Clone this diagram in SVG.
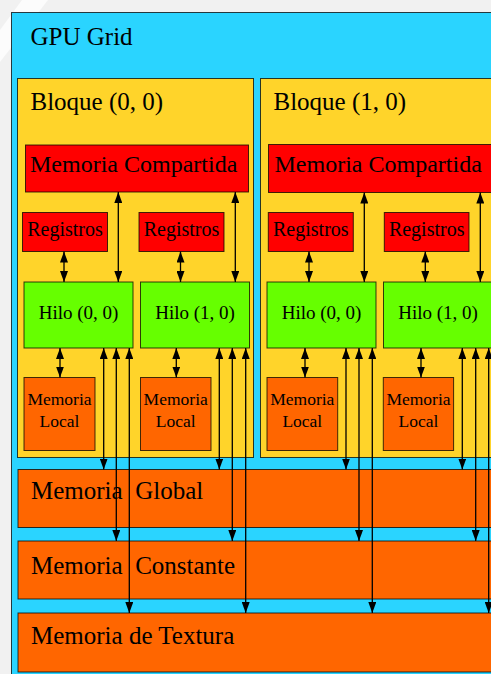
<svg xmlns="http://www.w3.org/2000/svg" width="491" height="674" viewBox="0 0 491 674">
  <defs>
    <marker id="ah" viewBox="0 0 11 8" refX="11" refY="4" markerWidth="11" markerHeight="8" markerUnits="userSpaceOnUse" orient="auto-start-reverse">
      <path d="M0,0 L11,4 L0,8 z" fill="#000"/>
    </marker>
    <style>
      .box { stroke: #000; stroke-opacity: 0.75; stroke-width: 1; }
      .grid { fill: #2ad4ff; }
      .block { fill: #ffd42a; }
      .red { fill: #ff0000; }
      .green { fill: #66ff00; }
      .orange { fill: #ff6600; }
      text { font-family: "Liberation Serif", "Times New Roman", serif; fill: #000; }
      .big { font-size: 25px; }
      .mid { font-size: 24px; }
      .reg { font-size: 20px; text-anchor: middle; }
      .hilo { font-size: 19px; text-anchor: middle; }
      .loc { font-size: 17.5px; text-anchor: middle; }
      .link line { stroke: #000; stroke-width: 1.3; marker-start: url(#ah); marker-end: url(#ah); }
    </style>
  </defs>

  <!-- page background -->
  <rect x="0" y="0" width="491" height="674" fill="#f1f1f1"/>
  <polygon points="0,30 22,0 48,0 0,62" fill="#ffffff" opacity="0.8"/>

  <!-- grid container -->
  <g id="gpu-grid">
    <rect class="box grid" x="11.5" y="12.5" width="490" height="670"/>
    <text class="big" x="30.5" y="45">GPU Grid</text>
  </g>

  <!-- block (0,0) -->
  <g id="bloque-0-0">
    <rect class="box block" x="17.5" y="78.5" width="236" height="379"/>
    <text class="big" x="30.5" y="110">Bloque (0, 0)</text>
  </g>
  <g id="compartida-0">
    <rect class="box red" x="25.5" y="145" width="223" height="47"/>
    <text class="mid" x="30" y="172">Memoria Compartida</text>
  </g>
  <g id="registros-0-0">
    <rect class="box red" x="22.5" y="212.5" width="85" height="39"/>
    <text class="reg" x="65" y="235.5">Registros</text>
  </g>
  <g id="registros-0-1">
    <rect class="box red" x="139" y="212.5" width="85" height="39"/>
    <text class="reg" x="181.5" y="235.5">Registros</text>
  </g>
  <g id="hilo-0-0">
    <rect class="box green" x="24" y="282" width="109" height="66"/>
    <text class="hilo" x="78.5" y="318.5">Hilo (0, 0)</text>
  </g>
  <g id="hilo-0-1">
    <rect class="box green" x="140.5" y="282" width="109" height="66"/>
    <text class="hilo" x="195" y="318.5">Hilo (1, 0)</text>
  </g>
  <g id="local-0-0">
    <rect class="box orange" x="24" y="377.5" width="71" height="73"/>
    <text class="loc" x="59.5" y="405">Memoria</text>
    <text class="loc" x="59.5" y="427">Local</text>
  </g>
  <g id="local-0-1">
    <rect class="box orange" x="140.5" y="377.5" width="70.5" height="73"/>
    <text class="loc" x="175.7" y="405">Memoria</text>
    <text class="loc" x="175.7" y="427">Local</text>
  </g>

  <!-- block (1,0) -->
  <g id="bloque-1-0">
    <rect class="box block" x="260.5" y="78.5" width="240" height="379"/>
    <text class="big" x="273.5" y="110">Bloque (1, 0)</text>
  </g>
  <g id="compartida-1">
    <rect class="box red" x="268.5" y="144.5" width="230" height="48"/>
    <text class="mid" x="274.5" y="172">Memoria Compartida</text>
  </g>
  <g id="registros-1-0">
    <rect class="box red" x="268.3" y="212.5" width="85" height="39"/>
    <text class="reg" x="310.8" y="235.5">Registros</text>
  </g>
  <g id="registros-1-1">
    <rect class="box red" x="384.3" y="212.5" width="84.7" height="39"/>
    <text class="reg" x="426.7" y="235.5">Registros</text>
  </g>
  <g id="hilo-1-0">
    <rect class="box green" x="267" y="282" width="109" height="66"/>
    <text class="hilo" x="321.5" y="318.5">Hilo (0, 0)</text>
  </g>
  <g id="hilo-1-1">
    <rect class="box green" x="383.5" y="282" width="109" height="66"/>
    <text class="hilo" x="438" y="318.5">Hilo (1, 0)</text>
  </g>
  <g id="local-1-0">
    <rect class="box orange" x="267" y="377.5" width="70.7" height="73"/>
    <text class="loc" x="302.3" y="405">Memoria</text>
    <text class="loc" x="302.3" y="427">Local</text>
  </g>
  <g id="local-1-1">
    <rect class="box orange" x="383.3" y="377.5" width="70.3" height="73"/>
    <text class="loc" x="418.5" y="405">Memoria</text>
    <text class="loc" x="418.5" y="427">Local</text>
  </g>

  <!-- device-wide memories -->
  <g id="memoria-global">
    <rect class="box orange" x="18" y="469.5" width="480" height="58"/>
    <text class="big" x="31" y="499" xml:space="preserve">Memoria  Global</text>
  </g>
  <g id="memoria-constante">
    <rect class="box orange" x="18" y="541" width="480" height="58"/>
    <text class="big" x="31" y="574" xml:space="preserve">Memoria  Constante</text>
  </g>
  <g id="memoria-textura">
    <rect class="box orange" x="18" y="613" width="480" height="59"/>
    <text class="big" x="31" y="644">Memoria de Textura</text>
  </g>

  <!-- connectors -->
  <g id="connectors" class="link">
    <!-- block (0,0) -->
    <line x1="64" y1="251.5" x2="64" y2="282"/>
    <line x1="180.5" y1="251.5" x2="180.5" y2="282"/>
    <line x1="118.3" y1="192" x2="118.3" y2="282"/>
    <line x1="235.3" y1="192" x2="235.3" y2="282"/>
    <line x1="60" y1="348" x2="60" y2="377.5"/>
    <line x1="176.3" y1="348" x2="176.3" y2="377.5"/>
    <line x1="103.7" y1="348" x2="103.7" y2="469.5"/>
    <line x1="116.3" y1="348" x2="116.3" y2="541"/>
    <line x1="129.3" y1="348" x2="129.3" y2="613"/>
    <line x1="219.3" y1="348" x2="219.3" y2="469.5"/>
    <line x1="232.3" y1="348" x2="232.3" y2="541"/>
    <line x1="245.7" y1="348" x2="245.7" y2="613"/>
    <!-- block (1,0) -->
    <line x1="309" y1="251.5" x2="309" y2="282"/>
    <line x1="425.3" y1="251.5" x2="425.3" y2="282"/>
    <line x1="364.3" y1="192.5" x2="364.3" y2="282"/>
    <line x1="480.3" y1="192.5" x2="480.3" y2="282"/>
    <line x1="305" y1="348" x2="305" y2="377.5"/>
    <line x1="421" y1="348" x2="421" y2="377.5"/>
    <line x1="346" y1="348" x2="346" y2="469.5"/>
    <line x1="359" y1="348" x2="359" y2="541"/>
    <line x1="372.3" y1="348" x2="372.3" y2="613"/>
    <line x1="462.3" y1="348" x2="462.3" y2="469.5"/>
    <line x1="475.7" y1="348" x2="475.7" y2="541"/>
    <line x1="488.7" y1="348" x2="488.7" y2="613"/>
  </g>
</svg>
